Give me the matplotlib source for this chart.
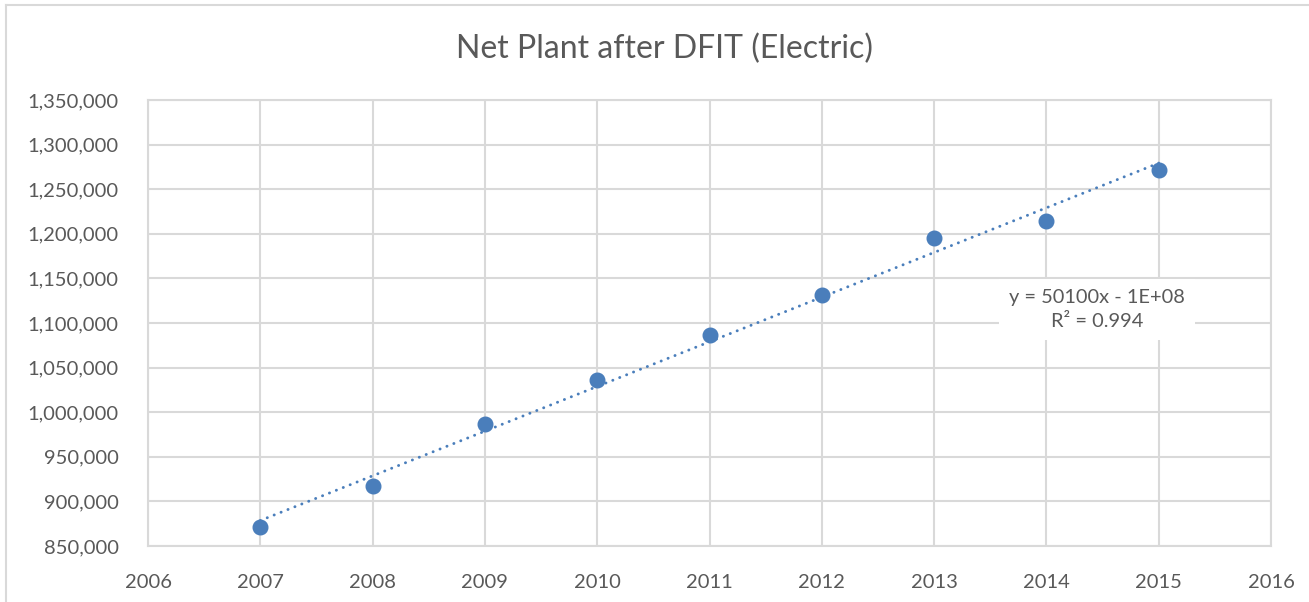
import numpy as np
import matplotlib
matplotlib.use("Agg")
import matplotlib.pyplot as plt
from matplotlib.ticker import FuncFormatter, MultipleLocator

years = [2007, 2008, 2009, 2010, 2011, 2012, 2013, 2014, 2015]
net_plant = [871300, 917000, 986800, 1036100, 1086500, 1131400, 1195300, 1214300, 1271500]
title = "Net Plant after DFIT (Electric)"
eq_text = "y = 50100x - 1E+08\nR² = 0.994"

plt.rcParams['font.family'] = ['Lato', 'DejaVu Sans']
txt = '#595959'
grid = '#d9d9d9'
blue = '#4a7ebb'

fig = plt.figure(figsize=(13.09, 6.02), dpi=100)
W, H = 1309, 602
ax = fig.add_axes([148 / W, 1 - 546 / H, (1271 - 148) / W, (546 - 100) / H])

# chart border (partially visible)
fig.add_artist(plt.Line2D([6 / W, 6 / W], [0, 1 - 5 / H], transform=fig.transFigure, color=grid, lw=1.5))
fig.add_artist(plt.Line2D([6 / W, 1], [1 - 5 / H, 1 - 5 / H], transform=fig.transFigure, color=grid, lw=1.5))

ax.set_xlim(2006, 2016)
ax.set_ylim(850000, 1350000)
ax.xaxis.set_major_locator(MultipleLocator(1))
ax.yaxis.set_major_locator(MultipleLocator(50000))
ax.yaxis.set_major_formatter(FuncFormatter(lambda v, p: f"{int(v):,}"))
ax.grid(True, color=grid, lw=1.5)
ax.set_axisbelow(True)
for s in ax.spines.values():
    s.set_color(grid)
    s.set_linewidth(1.5)
ax.tick_params(length=0, colors=txt, labelsize=14.5)
ax.tick_params(axis='x', pad=20)
ax.tick_params(axis='y', pad=21)
for lab in ax.get_yticklabels() + ax.get_xticklabels():
    lab.set_color(txt)

# trendline
coef = np.polyfit(years, net_plant, 1)
xs = np.array([years[0], years[-1]])
ax.plot(xs, np.polyval(coef, xs), color=blue, lw=2.1, ls=(0, (0.05, 2.5)),
        dash_capstyle='round', zorder=2)
ax.plot(years, net_plant, 'o', color=blue, ms=10.5, zorder=3)

ax.text(2014.45, 1115000, eq_text, ha='center', va='center', color=txt, fontsize=14.4,
        linespacing=1.45, zorder=4,
        bbox=dict(boxstyle='square,pad=0.5', fc='white', ec='none'))

fig.text(665 / W, 1 - 49 / H, title, ha='center', va='center', color=txt, fontsize=23)

fig.savefig("out.png", dpi=100, facecolor='white')
